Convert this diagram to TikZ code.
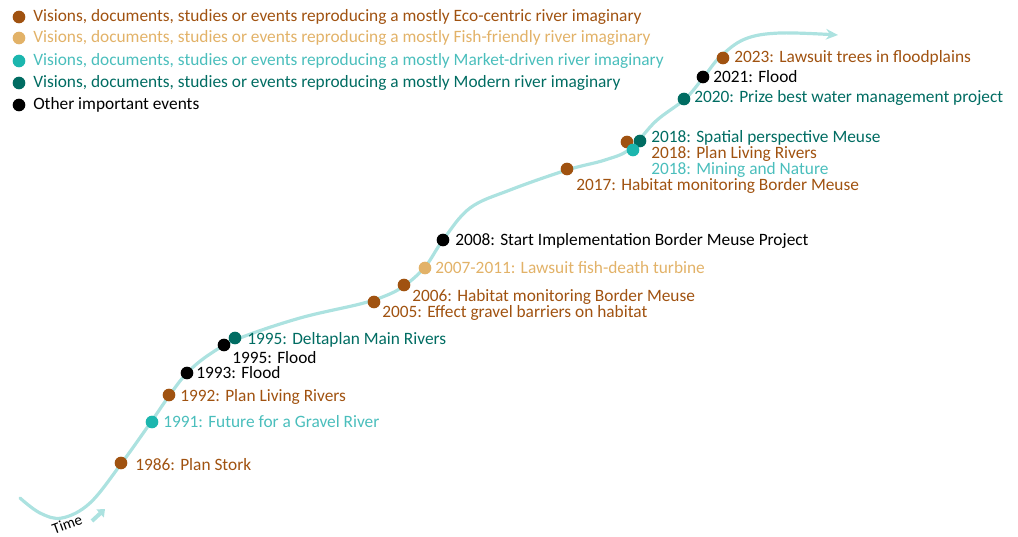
\documentclass[tikz,border=0pt]{standalone}
\usepackage{fontspec}
\setmainfont{Carlito}
\usetikzlibrary{arrows.meta}

\definecolor{ecoc}{RGB}{160,82,16}
\definecolor{fishc}{RGB}{226,178,104}
\definecolor{marketc}{RGB}{28,182,174}
\definecolor{markett}{RGB}{74,190,188}
\definecolor{modernc}{RGB}{0,108,98}
\definecolor{riverc}{RGB}{172,226,224}

\begin{document}
\begin{tikzpicture}[x=0.75pt, y=-0.75pt, every node/.style={font=\fontsize{13}{15}\selectfont},
  dot/.style={circle, inner sep=0pt, minimum size=9.5pt},
  lbl/.style={anchor=west, inner sep=0pt}]

  \useasboundingbox (0,0) rectangle (1018,536);

  % --- THE RIVER ---
  \draw[riverc, line width=2.4pt, line cap=round, -{Stealth[length=9pt,width=8pt]}]
    plot[smooth, tension=0.6] coordinates {
      (20,498) (40,513) (62,518) (90,503) (121,464) (151,422) (169,396) (187,373)
      (210,354) (240,338) (300,318) (360,304) (385,296) (404,286) (425,267) (443,240)
      (470,208) (510,190) (567,170) (605,160) (630,149) (656,121) (685,99) (703,78)
      (720,57) (745,39) (780,33) (838,35)};

  % Time marker
  \node[rotate=20, font=\fontsize{11.5}{13}\selectfont, inner sep=0pt] (time) at (67,524) {Time};
  \draw[riverc, line width=3pt, -{Triangle[length=5pt,width=8pt]}] (92,521) -- (105,509);

  % --- LEGEND ---
  \node[dot, fill=ecoc] (leco) at (19,17) {};
  \node[lbl, text=ecoc] at (33,17) {Visions, documents, studies or events reproducing a mostly Eco-centric river imaginary};
  \node[dot, fill=fishc] (lfish) at (19,38) {};
  \node[lbl, text=fishc] at (33,38) {Visions, documents, studies or events reproducing a mostly Fish-friendly river imaginary};
  \node[dot, fill=marketc] (lmarket) at (19,61) {};
  \node[lbl, text=markett] at (33,61) {Visions, documents, studies or events reproducing a mostly Market-driven river imaginary};
  \node[dot, fill=modernc] (lmodern) at (19,83) {};
  \node[lbl, text=modernc] at (33,83) {Visions, documents, studies or events reproducing a mostly Modern river imaginary};
  \node[dot, fill=black] (lother) at (19,105) {};
  \node[lbl] at (33,105) {Other important events};

  % --- EVENTS 1986-1995 ---
  \node[dot, fill=ecoc] (e1986) at (121,463) {};
  \node[lbl, text=ecoc] at (135,465) {1986: Plan Stork};
  \node[dot, fill=marketc] (e1991) at (152,422) {};
  \node[lbl, text=markett] at (163,422) {1991: Future for a Gravel River};
  \node[dot, fill=ecoc] (e1992) at (169,395) {};
  \node[lbl, text=ecoc] at (180,397) {1992: Plan Living Rivers};
  \node[dot, fill=black] (e1993) at (187,373) {};
  \node[lbl] at (196,373) {1993: Flood};
  \node[dot, fill=modernc] (e1995b) at (235,338) {};
  \node[dot, fill=black] (e1995a) at (224,345) {};
  \node[lbl, text=modernc] at (247,340) {1995: Deltaplan Main Rivers};
  \node[lbl] at (232,358) {1995: Flood};

  % --- EVENTS 2005-2017 ---
  \node[dot, fill=ecoc] (e2005) at (374,302) {};
  \node[lbl, text=ecoc] at (382,313) {2005: Effect gravel barriers on habitat};
  \node[dot, fill=ecoc] (e2006) at (404,285) {};
  \node[lbl, text=ecoc] at (412,297) {2006: Habitat monitoring Border Meuse};
  \node[dot, fill=fishc] (e2007) at (425,268) {};
  \node[lbl, text=fishc] at (435,268) {2007-2011: Lawsuit fish-death turbine};
  \node[dot, fill=black] (e2008) at (443,240) {};
  \node[lbl] at (455,241) {2008: Start Implementation Border Meuse Project};
  \node[dot, fill=ecoc] (e2017) at (567,169) {};
  \node[lbl, text=ecoc] at (576,186) {2017: Habitat monitoring Border Meuse};

  % --- EVENTS 2018-2023 ---
  \node[dot, fill=ecoc] (e2018a) at (627,142) {};
  \node[dot, fill=modernc] (e2018b) at (640,141) {};
  \node[dot, fill=marketc] (e2018c) at (633,150) {};
  \node[lbl, text=modernc] at (651,138) {2018: Spatial perspective Meuse};
  \node[lbl, text=ecoc] at (651,154) {2018: Plan Living Rivers};
  \node[lbl, text=markett] at (651,170) {2018: Mining and Nature};
  \node[dot, fill=modernc] (e2020) at (684,99) {};
  \node[lbl, text=modernc] at (694,98) {2020: Prize best water management project};
  \node[dot, fill=black] (e2021) at (703,77) {};
  \node[lbl] at (713,77) {2021: Flood};
  \node[dot, fill=ecoc] (e2023) at (723,58) {};
  \node[lbl, text=ecoc] at (734,58) {2023: Lawsuit trees in floodplains};

\end{tikzpicture}
\end{document}
